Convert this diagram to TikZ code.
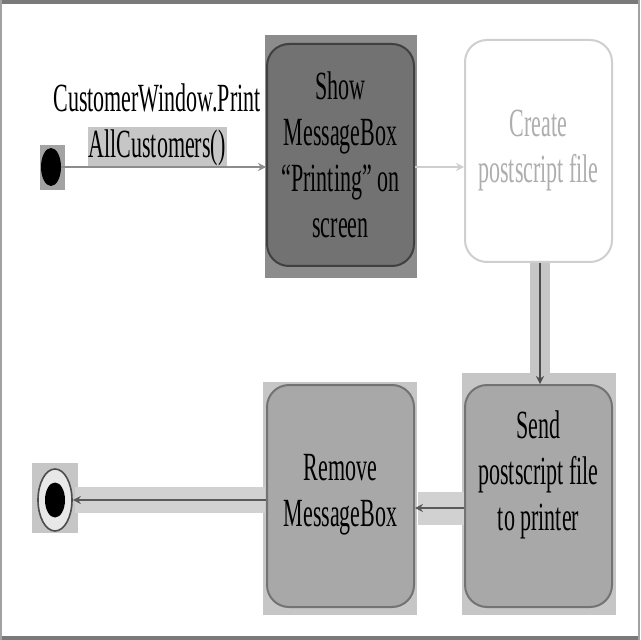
\documentclass[tikz,border=0pt]{standalone}
\usepackage{fontspec}
\setmainfont[FakeStretch=0.55]{Liberation Serif}
\usetikzlibrary{arrows.meta,shapes.geometric}
\definecolor{darkfill}{HTML}{727272}
\definecolor{darkback}{HTML}{8C8C8C}
\definecolor{midfill}{HTML}{A8A8A8}
\definecolor{midback}{HTML}{C6C6C6}
\definecolor{lightline}{HTML}{CFCFCF}
\definecolor{lighttext}{HTML}{AEAEAE}
\definecolor{framegray}{HTML}{7A7A7A}
\tikzset{
  box/.style={draw, rounded corners=11pt, minimum width=73.5pt, minimum height=111pt, inner sep=0pt, line width=1pt},
  txt/.style={align=center, font=\fontsize{20}{23}\selectfont, inner sep=0pt},
  flow/.style={line width=1.2pt, -{Stealth[length=4pt,width=4pt]}},
}
\begin{document}
\begin{tikzpicture}[x=0.5pt,y=-0.5pt]
\useasboundingbox (0,0) rectangle (640,640);
\fill[white] (0,0) rectangle (640,640);
% frame
\fill[framegray] (0,0) rectangle (640,4);
\fill[framegray] (0,636) rectangle (640,640);
\fill[framegray!70] (0,0) rectangle (2,640);
\fill[framegray!70] (638,0) rectangle (640,640);
% backings
\fill[darkback] (265,35) rectangle (417,278);
\fill[midback] (462,373) rectangle (616,615);
\fill[midback] (263,382) rectangle (417,615);
\fill[darkback!80] (40,145) rectangle (65,190);
\fill[midback] (32,463) rectangle (78,533);
\fill[midback] (530,258) rectangle (550,390);
\fill[midback!80] (418,492) rectangle (465,525);
\fill[midback!80] (75,487) rectangle (265,513);
\fill[midback] (88,127) rectangle (227,168);
% boxes
\node[box, fill=darkfill, draw=black!75] (show) at (340.5,155) {};
\node[txt] (showtxt) at (340.5,155) {Show\\MessageBox\\“Printing” on\\screen};
\node[box, fill=white, draw=lightline] (create) at (538.5,151) {};
\node[txt, text=lighttext] (createtxt) at (538.5,151) {Create\\postscript file};
\node[box, fill=midfill, draw=black!55] (send) at (538.5,496) {};
\node[txt] (sendtxt) at (538.5,475) {Send\\postscript file\\to printer};
\node[box, fill=midfill, draw=black!55] (remove) at (340.5,496) {};
\node[txt] (removetxt) at (340.5,495) {Remove\\MessageBox};
% start and end
\node[ellipse, fill=black, minimum width=10pt, minimum height=19pt, inner sep=0pt] (start) at (51,167) {};
\node[ellipse, draw=black!70, line width=0.8pt, fill=midback!40, minimum width=17pt, minimum height=31pt, inner sep=0pt] (end) at (55,500) {};
\node[ellipse, fill=black, minimum width=10pt, minimum height=17.5pt, inner sep=0pt] (endin) at (55,500) {};
% label
\node[txt] (lab) at (157,125) {CustomerWindow.Print\\AllCustomers()};
% connectors
\draw[flow, draw=black!45] (start.east) -- (start.east -| show.west);
\draw[flow, draw=lightline] (show.east |- 0,167) -- (create.west |- 0,167);
\draw[flow, draw=black!70] (create.south -| 540,0) -- (send.north -| 540,0);
\draw[flow, draw=black!65] (send.west |- 0,508) -- (remove.east |- 0,508);
\draw[flow, draw=black!65] (remove.west |- 0,500) -- (end.east |- 0,500);
\end{tikzpicture}
\end{document}
